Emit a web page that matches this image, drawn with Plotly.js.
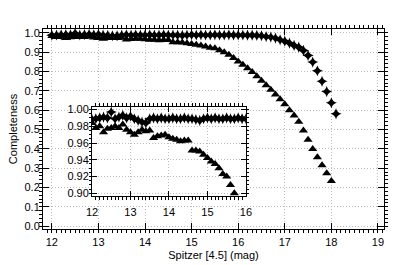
<!DOCTYPE html>
<html><head><meta charset="utf-8">
<script src="https://cdn.plot.ly/plotly-3.0.1.min.js"></script>
<style>html,body{margin:0;padding:0;background:#fff}#c{width:407px;height:265px}</style>
</head><body><div id="c"></div>
<script>
const starMag = [12.0,12.1,12.2,12.3,12.4,12.5,12.6,12.7,12.8,12.9,13.0,13.1,13.2,13.3,13.4,13.5,13.6,13.7,13.8,13.9,
  14.0,14.1,14.2,14.3,14.4,14.5,14.6,14.7,14.8,14.9,15.0,15.1,15.2,15.3,15.4,15.5,15.6,15.7,15.8,15.9,
  16.0,16.1,16.2,16.3,16.4,16.5,16.6,16.7,16.8,16.9,17.0,17.1,17.2,17.3,17.4,17.5,17.6,17.7,17.8,17.9,18.0,18.1];
const starComp = [0.988,0.989,0.990,0.991,0.990,0.997,0.989,0.991,0.993,0.990,0.992,0.989,0.987,0.985,0.984,0.989,0.990,0.989,0.990,0.989,
  0.989,0.990,0.989,0.989,0.990,0.989,0.989,0.988,0.987,0.989,0.990,0.989,0.990,0.989,0.989,0.990,0.989,0.989,0.990,0.989,
  0.989,0.989,0.988,0.988,0.987,0.985,0.981,0.978,0.973,0.964,0.957,0.947,0.935,0.926,0.909,0.883,0.849,0.804,0.749,0.696,0.638,0.581];
const triMag = [12.0,12.1,12.2,12.3,12.4,12.5,12.6,12.7,12.8,12.9,13.0,13.1,13.2,13.3,13.4,13.5,13.6,13.7,13.8,13.9,
  14.0,14.1,14.2,14.3,14.4,14.5,14.6,14.7,14.8,14.9,15.0,15.1,15.2,15.3,15.4,15.5,15.6,15.7,15.8,15.9,
  16.0,16.1,16.2,16.3,16.4,16.5,16.6,16.7,16.8,16.9,17.0,17.1,17.2,17.3,17.4,17.5,17.6,17.7,17.8,17.9,18.0];
const triComp = [0.984,0.978,0.980,0.973,0.977,0.978,0.980,0.978,0.982,0.976,0.973,0.970,0.973,0.976,0.974,0.975,0.966,0.968,0.969,0.970,
  0.967,0.965,0.964,0.962,0.963,0.963,0.951,0.951,0.950,0.946,0.942,0.938,0.935,0.930,0.923,0.920,0.910,0.900,0.887,0.870,
  0.852,0.835,0.817,0.797,0.776,0.752,0.729,0.705,0.681,0.656,0.630,0.600,0.573,0.540,0.495,0.447,0.399,0.356,0.315,0.273,0.233];
const mainXTicks = [12,13,14,15,16,17,18,19];
const mainYTicks = [0.0,0.1,0.2,0.3,0.4,0.5,0.6,0.7,0.8,0.9,1.0];
const insetXTicks = [12,13,14,15,16];
const insetYTicks = [0.90,0.92,0.94,0.96,0.98,1.00];

const font = {family:'Liberation Sans, Arial, sans-serif', size:11, color:'#000'};
const starMk = {symbol:'star-diamond', size:8, color:'#000', line:{width:0}};
const triMk = {symbol:'triangle-up', size:8, color:'#000', line:{width:0}};

const traces = [
  {x:starMag, y:starComp, mode:'markers', marker:starMk, xaxis:'x', yaxis:'y', cliponaxis:true},
  {x:triMag, y:triComp, mode:'markers', marker:triMk, xaxis:'x', yaxis:'y', cliponaxis:true},
  {x:starMag, y:starComp, mode:'markers', marker:starMk, xaxis:'x2', yaxis:'y2', cliponaxis:true},
  {x:triMag, y:triComp, mode:'markers', marker:triMk, xaxis:'x2', yaxis:'y2', cliponaxis:true}
];
const axBase = {showline:true, linecolor:'#000', linewidth:1, mirror:'ticks', ticks:'inside', ticklen:6,
  tickcolor:'#000', tickwidth:1, showgrid:true, gridcolor:'#bcbcbc', griddash:'1px,2px', gridwidth:1,
  zeroline:false, tickfont:font};
const layout = {
  width:407, height:265, margin:{l:43, r:23, t:29, b:36},
  paper_bgcolor:'#fff', plot_bgcolor:'#fff', showlegend:false, font:font,
  xaxis: Object.assign({}, axBase, {range:[11.81,19.13], tickvals:mainXTicks, ticktext:mainXTicks.map(String),
    ticklabelstandoff:3,
    minor:{dtick:0.1, ticklen:3, tickcolor:'#000', showgrid:false},
    title:{text:'Spitzer [4.5] (mag)', font:font, standoff:4}, domain:[0,1]}),
  yaxis: Object.assign({}, axBase, {range:[-0.015,1.02], tickvals:mainYTicks, ticktext:mainYTicks.map(v=>v.toFixed(1)),
    minor:{dtick:0.02, tick0:0, ticklen:3, tickcolor:'#000', showgrid:false},
    title:{text:'Completeness', font:font, standoff:4}, domain:[0,1]}),
  xaxis2: Object.assign({}, axBase, {anchor:'y2', domain:[0.1437,0.595], range:[12,16], tickvals:insetXTicks,
    ticklabelstandoff:6,
    ticktext:insetXTicks.map(String), ticklen:5, minor:{dtick:0.1, ticklen:2.5, tickcolor:'#000', showgrid:false}}),
  yaxis2: Object.assign({}, axBase, {anchor:'x2', domain:[0.164,0.612], range:[0.8965,1.0035], tickvals:insetYTicks,
    ticktext:insetYTicks.map(v=>v.toFixed(2)), ticklen:5, minor:{dtick:0.005, tick0:0.9, ticklen:2.5, tickcolor:'#000', showgrid:false}}),
  shapes:[{type:'rect', xref:'x2', yref:'y2', x0:12, x1:16, y0:0.8965, y1:1.0035, layer:'below',
    fillcolor:'#fff', line:{width:0}}]
};
Plotly.newPlot('c', traces, layout, {displayModeBar:false, staticPlot:true});
</script></body></html>
